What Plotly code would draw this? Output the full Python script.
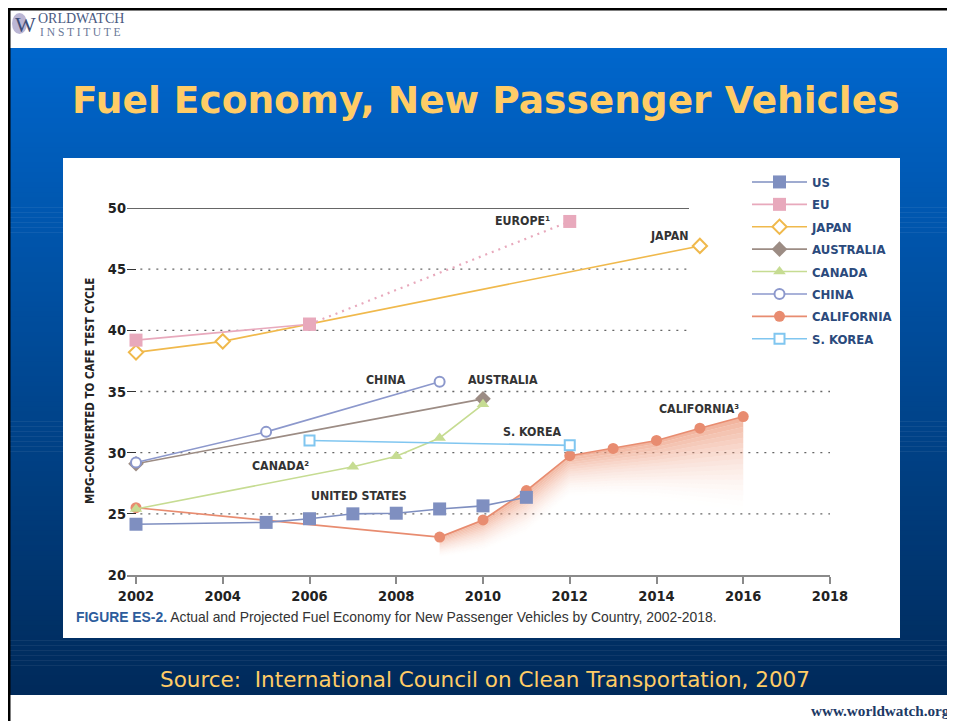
import plotly.graph_objects as go

# ---------------- data ----------------
us_years = [2002, 2005, 2006, 2007, 2008, 2009, 2010, 2011]
us_mpg = [24.15, 24.3, 24.6, 25.0, 25.05, 25.4, 25.65, 26.35]

eu_years = [2002, 2006, 2012]
eu_mpg = [39.2, 40.5, 48.9]

japan_years = [2002, 2004, 2015]
japan_mpg = [38.2, 39.1, 46.9]

australia_years = [2002, 2010]
australia_mpg = [29.1, 34.4]

canada_years = [2002, 2007, 2008, 2009, 2010]
canada_mpg = [25.4, 28.85, 29.7, 31.2, 33.95]

china_years = [2002, 2005, 2009]
china_mpg = [29.2, 31.7, 35.8]

california_years = [2002, 2009, 2010, 2011, 2012, 2013, 2014, 2015, 2016]
california_mpg = [25.5, 23.1, 24.5, 26.9, 29.75, 30.35, 31.0, 32.0, 32.95]
# lower edge of the faded projection shading (2009-2016)
california_shade_floor = [21.4, 21.9, 23.4, 26.4, 26.4, 26.2, 25.7, 25.2]

skorea_years = [2006, 2012]
skorea_mpg = [31.0, 30.6]

x_ticks = [2002, 2004, 2006, 2008, 2010, 2012, 2014, 2016, 2018]
y_ticks = [20, 25, 30, 35, 40, 45, 50]

# ---------------- layout helpers ----------------
# the page puts the figure 8px in from the window's top-left corner,
# so the figure is 8px smaller and all page positions are shifted by 8px
OFF = 8
W, H = 955 - OFF, 721 - OFF
def px(x):
    return (x - OFF) / W
def py(y):
    return 1 - (y - OFF) / H

COND = "Liberation Sans Narrow, Arial Narrow, DejaVu Sans Condensed, Roboto Condensed, Roboto, sans-serif"
LABEL_C = "#333333"
LEG_C = "#2B4A7C"

fig = go.Figure()

# California projected shading, built as stacked translucent bands for a fade
shade_idx = california_years.index(2009)
shade_x = california_years[shade_idx:]
shade_top = california_mpg[shade_idx:]
N_BANDS = 18
for k in range(N_BANDS):
    lo = [f + (t - f) * k / N_BANDS for f, t in zip(california_shade_floor, shade_top)]
    hi = [f + (t - f) * (k + 1) / N_BANDS for f, t in zip(california_shade_floor, shade_top)]
    a = 0.7 * ((k + 1) / N_BANDS) ** 1.8
    fig.add_trace(go.Scatter(x=shade_x, y=lo, mode="lines", line=dict(width=0),
                             showlegend=False, hoverinfo="skip"))
    fig.add_trace(go.Scatter(x=shade_x, y=hi, mode="lines", line=dict(width=0),
                             fill="tonexty", fillcolor="rgba(236,150,118,%.3f)" % a,
                             showlegend=False, hoverinfo="skip"))

def add_series(name, xs, ys, color, symbol, size, rank, mfill=None, lw=1.6, mline=None):
    fig.add_trace(go.Scatter(
        x=xs, y=ys, name="<b>%s</b>" % name, mode="lines+markers",
        line=dict(color=color, width=lw),
        marker=dict(symbol=symbol, size=size, color=mfill if mfill else color,
                    line=dict(color=mline if mline else color, width=2 if mfill else 0)),
        legendrank=rank, legendgroup=name, cliponaxis=False))

add_series("CALIFORNIA", california_years, california_mpg, "#E88C70", "circle", 11, 7)
add_series("AUSTRALIA", australia_years, australia_mpg, "#9C8C84", "diamond", 12, 4)
add_series("CHINA", china_years, china_mpg, "#8C98CC", "circle", 10, 6, mfill="white")
add_series("CANADA", canada_years, canada_mpg, "#C6DC92", "triangle-up", 11, 5)
add_series("S. KOREA", skorea_years, skorea_mpg, "#80C6F0", "square", 10, 8, mfill="white")
add_series("JAPAN", japan_years, japan_mpg, "#F0B94C", "diamond", 11, 3, mfill="white")
# EU: actual (solid) then projected (dotted)
add_series("EU", eu_years[:2], eu_mpg[:2], "#E8A9BC", "square", 13, 2)
fig.add_trace(go.Scatter(
    x=eu_years[1:], y=eu_mpg[1:], mode="lines+markers",
    line=dict(color="#E8A9BC", width=2.2, dash="2px,5px"),
    marker=dict(symbol="square", size=13, color="#E8A9BC"),
    showlegend=False, cliponaxis=False, hoverinfo="skip"))
add_series("US", us_years, us_mpg, "#7F8FC0", "square", 13, 1, mline="#8A98C4")

# ---------------- background shapes ----------------
shapes = []
top_c = (0, 102, 204)
bot_c = (0, 42, 90)
y0p, y1p = 48, 695
N = 130
for i in range(N):
    t = i / (N - 1)
    c = tuple(int(round(top_c[k] + (bot_c[k] - top_c[k]) * t)) for k in range(3))
    ya = y0p + (y1p - y0p) * i / N
    yb = y0p + (y1p - y0p) * (i + 1) / N + 0.6
    shapes.append(dict(type="rect", xref="paper", yref="paper", layer="below",
                       x0=px(10), x1=px(956), y0=py(ya), y1=py(min(yb, y1p)),
                       line=dict(width=0), fillcolor="rgb(%d,%d,%d)" % c))
# slide border lines (as close to the window edge as the page allows)
shapes.append(dict(type="rect", xref="paper", yref="paper", layer="below",
                   x0=px(8), x1=px(10.5), y0=py(8), y1=py(722), line=dict(width=0), fillcolor="black"))
shapes.append(dict(type="rect", xref="paper", yref="paper", layer="below",
                   x0=px(8), x1=px(956), y0=py(8), y1=py(10.5), line=dict(width=0), fillcolor="black"))
shapes.append(dict(type="rect", xref="paper", yref="paper", layer="below",
                   x0=px(63), x1=px(900), y0=py(158), y1=py(638), line=dict(width=0), fillcolor="white"))
shapes.append(dict(type="circle", xref="paper", yref="paper", layer="below",
                   x0=px(12), x1=px(27), y0=py(13), y1=py(34), line=dict(width=0),
                   fillcolor="rgba(120,110,170,0.5)"))

x_start = 2002 - 9 / 43.375
for yv in y_ticks[1:]:
    x_end = 2014.75 if yv >= 40 else 2018
    if yv == 50:
        shapes.append(dict(type="line", xref="x", yref="y", layer="between",
                           x0=x_start, x1=x_end, y0=yv, y1=yv,
                           line=dict(color="#333333", width=1.5)))
    else:
        shapes.append(dict(type="line", xref="x", yref="y", layer="between",
                           x0=2002.1, x1=x_end, y0=yv, y1=yv,
                           line=dict(color="#666666", width=1.3, dash="2px,6px")))

# ---------------- annotations ----------------
ann = []
def lab(text, x, y, xanchor="center", size=12.3):
    ann.append(dict(text="<b>%s</b>" % text, x=x, y=y, xref="x", yref="y", showarrow=False,
                    xanchor=xanchor, yanchor="middle", font=dict(family=COND, size=size, color=LABEL_C)))

lab("EUROPE¹", 2011.6, 48.95, xanchor="right")
lab("JAPAN", 2014.77, 47.7, xanchor="right")
lab("CHINA", 2007.76, 35.95)
lab("AUSTRALIA", 2010.45, 35.95)
lab("S. KOREA", 2011.14, 31.7)
lab("CALIFORNIA³", 2014.97, 33.57)
lab("CANADA²", 2005.32, 28.91)
lab("UNITED STATES", 2007.13, 26.46)

ann.append(dict(text="<b>MPG–CONVERTED TO CAFE TEST CYCLE</b>", x=px(81), y=py(391), xref="paper", yref="paper",
                textangle=-90, showarrow=False, font=dict(family=COND, size=11.5, color="#222222")))

ann.append(dict(text="<b>Fuel Economy, New Passenger Vehicles</b>", x=px(485.5), y=py(100), xref="paper", yref="paper",
                showarrow=False, xanchor="center", yanchor="middle",
                font=dict(family="DejaVu Sans, Verdana, sans-serif", size=37.5, color="#FFCC66")))
ann.append(dict(text="Source:  International Council on Clean Transportation, 2007", x=px(485), y=py(679),
                xref="paper", yref="paper", showarrow=False, xanchor="center", yanchor="middle",
                font=dict(family="DejaVu Sans, Verdana, sans-serif", size=21.5, color="#FFCC66")))
ann.append(dict(text="<span style='color:#2C5C9C'><b>FIGURE ES-2.</b></span> Actual and Projected Fuel Economy for New Passenger Vehicles by Country, 2002-2018.",
                x=px(74), y=py(617), xref="paper", yref="paper", showarrow=False, xanchor="left", yanchor="middle",
                font=dict(family="Liberation Sans, Arial, sans-serif", size=13.9, color="#333333")))
ann.append(dict(text="<b>www.worldwatch.org</b>", x=px(952), y=py(710), xref="paper", yref="paper",
                showarrow=False, xanchor="right", yanchor="middle",
                font=dict(family="Liberation Serif, Times New Roman, serif", size=15.2, color="#1D3A66")))
ann.append(dict(text="W", x=px(13), y=py(24), xref="paper", yref="paper", showarrow=False,
                xanchor="left", yanchor="middle",
                font=dict(family="Liberation Serif, serif", size=22, color="#3E4E78")))
ann.append(dict(text="ORLDWATCH", x=px(36), y=py(18), xref="paper", yref="paper", showarrow=False,
                xanchor="left", yanchor="middle",
                font=dict(family="Liberation Serif, serif", size=14, color="#4A5A82")))
ann.append(dict(text="I N S T I T U T E", x=px(38), y=py(32), xref="paper", yref="paper", showarrow=False,
                xanchor="left", yanchor="middle",
                font=dict(family="Liberation Serif, serif", size=11.5, color="#6A7898")))

fig.update_layout(
    width=W, height=H, margin=dict(l=0, r=0, t=0, b=0, autoexpand=False),
    paper_bgcolor="white", plot_bgcolor="rgba(0,0,0,0)",
    shapes=shapes, annotations=ann,
    xaxis=dict(domain=[px(127), px(830)], range=[x_start, 2018], tickvals=x_ticks,
               showgrid=False, zeroline=False, automargin=False,
               showline=True, linecolor="#8A8A8A", linewidth=1.5,
               ticks="outside", ticklen=7, tickcolor="#8A8A8A", tickwidth=1.5,
               tickfont=dict(family=COND, size=14.5, color="#222222", weight="bold")),
    yaxis=dict(domain=[py(575), py(208)], range=[20, 50], tickvals=y_ticks,
               showgrid=False, zeroline=False, showline=False, automargin=False,
               ticks="inside", ticklen=9, tickcolor="#333333", tickwidth=1.3,
               tickfont=dict(family=COND, size=14.5, color="#222222", weight="bold")),
    legend=dict(x=px(747), y=py(167), xanchor="left", yanchor="top", bgcolor="rgba(0,0,0,0)",
                font=dict(family=COND, size=13, color=LEG_C), tracegroupgap=2.5,
                itemwidth=55),
    showlegend=True,
)

fig.write_html("out.html")
